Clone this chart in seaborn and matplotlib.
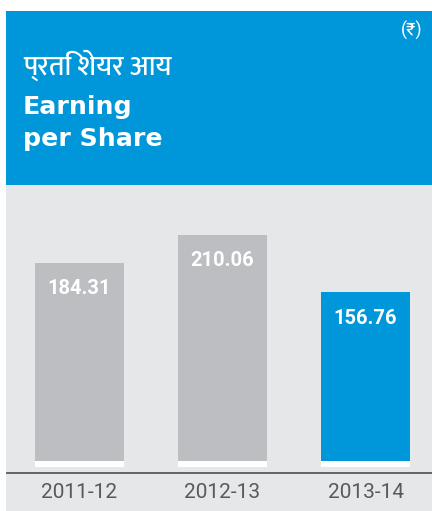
import matplotlib
matplotlib.use("Agg")
import matplotlib.pyplot as plt
from matplotlib.patches import Rectangle
import seaborn as sns

# chart data
years = ["2011-12", "2012-13", "2013-14"]
eps = [184.31, 210.06, 156.76]
bar_colors = ["#BDBEC2", "#BDBEC2", "#0096DA"]

title_hi = "प्रति शेयर आय"
title_en = ["Earning", "per Share"]
unit = "(₹)"

BLUE = "#0096DA"
PANEL = "#E6E7E8"
DARK = "#58595B"

W, H = 432, 511


def px(x, y):
    """pixel position (from top-left) -> figure fraction"""
    return x / W, 1 - y / H


sns.set_theme(style="white")
fig = plt.figure(figsize=(W / 100, H / 100), dpi=100)
fig.patch.set_facecolor("white")

# blue header and grey panel behind the bars
fig.patches.append(Rectangle(px(6, 511), 426 / W, 326 / H, transform=fig.transFigure,
                             facecolor=PANEL, edgecolor="none", zorder=-2))
fig.patches.append(Rectangle(px(6, 185), 426 / W, 174 / H, transform=fig.transFigure,
                             facecolor=BLUE, edgecolor="none", zorder=-2))

# axes: bottom spine at y=473px, top at the panel edge
ax = fig.add_axes([7 / W, 1 - 473 / H, 425 / W, 288 / H])
ax.set_facecolor("none")

sns.barplot(x=years, y=eps, hue=years, palette=bar_colors, legend=False,
            width=0.622, saturation=1, linewidth=0, edgecolor="none", ax=ax, zorder=2)
# thin white foot under each bar
ax.bar(range(len(years)), [-5.6] * len(years), width=0.622, color="white",
       linewidth=0, zorder=2)

ax.set_xlim(-0.507, 2.465)
ax.set_ylim(-11.15, 256.5)

for i, v in enumerate(eps):
    ax.annotate(f"{v:.2f}", (i, v), xytext=(0, -22.7), textcoords="offset points",
                ha="center", va="baseline", color="white", fontsize=14.5,
                fontweight="bold", family=["Roboto", "DejaVu Sans"], zorder=3)

sns.despine(ax=ax, left=True)
ax.spines["bottom"].set_color(DARK)
ax.spines["bottom"].set_linewidth(1.3)
ax.set_yticks([])
ax.set_xlabel("")
ax.set_ylabel("")
ax.tick_params(axis="x", length=0, pad=7, labelsize=15, labelcolor=DARK)
for lab in ax.get_xticklabels():
    lab.set_family(["Roboto", "DejaVu Sans"])

# header texts
fig.text(*px(23, 75), title_hi, color="white", fontsize=20, fontweight="medium",
         family=["Ek Mukta", "Noto Sans Devanagari", "DejaVu Sans"], va="baseline")
fig.text(*px(23, 114), title_en[0], color="white", fontsize=18.2, fontweight="bold",
         family=["DejaVu Sans"], va="baseline")
fig.text(*px(23, 146), title_en[1], color="white", fontsize=18.2, fontweight="bold",
         family=["DejaVu Sans"], va="baseline")
fig.text(*px(412, 30), unit, color="white", fontsize=13,
         family=["Roboto", "DejaVu Sans"], ha="center", va="center")

fig.savefig("out.png", dpi=100)
